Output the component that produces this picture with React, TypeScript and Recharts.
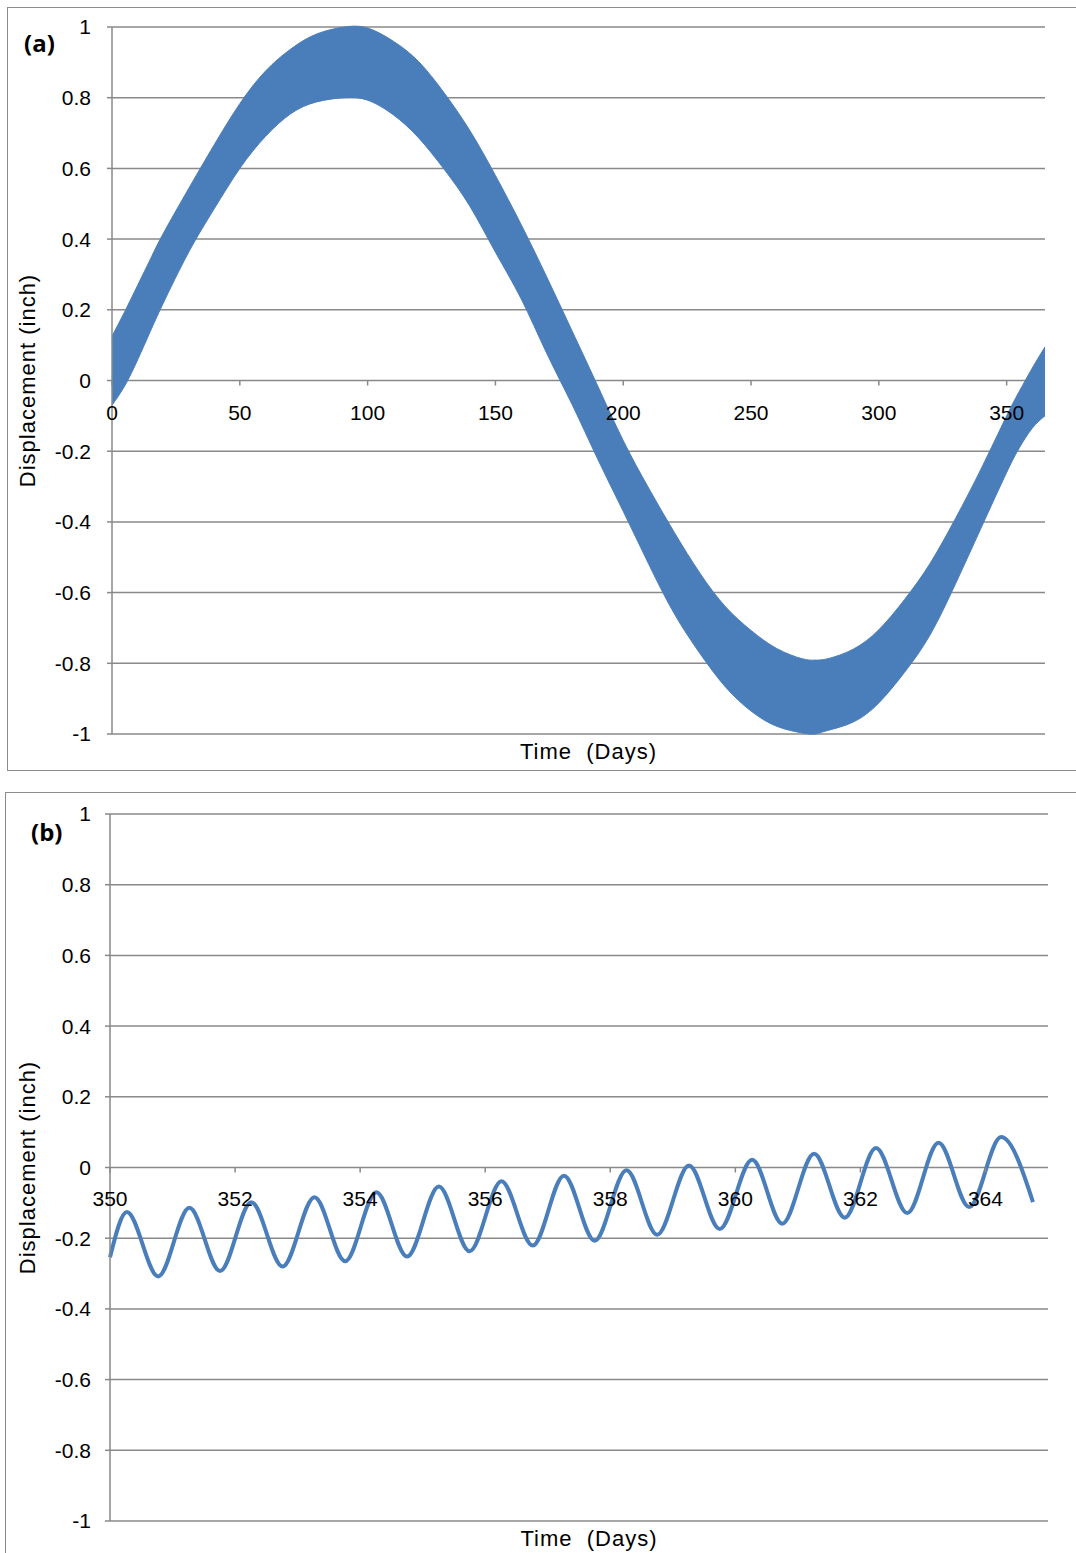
import { AreaChart, Area, LineChart, Line, XAxis, YAxis, CartesianGrid } from 'recharts'

const BLUE = '#4a7ebb'
const GRID = '#898989'
const FONT = '"Liberation Sans", Arial, Helvetica, sans-serif'

// (a) whole year: the daily swing is too dense to see one by one,
// so keep the upper and lower edge of the band
const yearDays = [0, 5, 10, 15, 20, 30, 40, 50, 60, 70, 80, 91, 100, 110, 120, 130, 140, 150, 160, 170, 180, 190, 200, 210, 220, 230, 240, 250, 260, 270, 275, 280, 290, 300, 310, 320, 330, 340, 350, 355, 360, 365]
const yearUpper = [0.125, 0.195, 0.269, 0.343, 0.415, 0.543, 0.667, 0.783, 0.875, 0.938, 0.98, 1.0, 0.997, 0.96, 0.902, 0.813, 0.707, 0.58, 0.442, 0.294, 0.14, -0.015, -0.17, -0.305, -0.43, -0.545, -0.64, -0.707, -0.758, -0.787, -0.791, -0.787, -0.76, -0.705, -0.62, -0.518, -0.39, -0.25, -0.1, -0.03, 0.035, 0.095]
const yearLower = [-0.07, -0.015, 0.058, 0.139, 0.218, 0.363, 0.486, 0.6, 0.69, 0.755, 0.788, 0.8, 0.793, 0.752, 0.686, 0.597, 0.493, 0.363, 0.232, 0.078, -0.068, -0.222, -0.37, -0.52, -0.66, -0.772, -0.867, -0.935, -0.978, -0.997, -1.0, -0.99, -0.966, -0.912, -0.826, -0.72, -0.575, -0.417, -0.26, -0.19, -0.135, -0.1]
const yearTicks = [0, 50, 100, 150, 200, 250, 300, 350]

// (b) last two weeks: peaks and troughs of the daily swing
const zoomDays = [350, 350.27, 350.77, 351.27, 351.76, 352.26, 352.76, 353.27, 353.76, 354.26, 354.75, 355.26, 355.75, 356.26, 356.76, 357.26, 357.75, 358.26, 358.75, 359.26, 359.75, 360.27, 360.75, 361.26, 361.75, 362.25, 362.75, 363.25, 363.74, 364.25, 364.76]
const zoomValues = [-0.254, -0.126, -0.308, -0.114, -0.293, -0.098, -0.28, -0.084, -0.265, -0.07, -0.252, -0.054, -0.237, -0.039, -0.221, -0.023, -0.207, -0.008, -0.19, 0.006, -0.174, 0.022, -0.159, 0.039, -0.142, 0.055, -0.129, 0.07, -0.112, 0.086, -0.098]
const zoomTicks = [350, 352, 354, 356, 358, 360, 362, 364]

const yTicks = [-1, -0.8, -0.6, -0.4, -0.2, 0, 0.2, 0.4, 0.6, 0.8, 1]

const yearData = yearDays.map((d, i) => ({ day: d, band: [yearLower[i], yearUpper[i]] }))
const zoomData = zoomDays.map((d, i) => ({ day: d, value: zoomValues[i] }))

const PLOT_H = 707

// excel puts the x axis on the zero line, which is halfway up the plot
const ZeroLineTick = ({ x, y, payload, below }: any) => {
  const zeroY = y - PLOT_H / 2
  return (
    <g>
      <line x1={x} x2={x} y1={zeroY} y2={zeroY + 5} stroke={GRID} strokeWidth={1.5} />
      <text x={x} y={zeroY + below} dy="0.35em" textAnchor="middle" fontSize={21} fontFamily={FONT} fill="#000">
        {payload.value}
      </text>
    </g>
  )
}

// axis title sits a little right of the plot centre in the original
const XTitle = ({ viewBox }: any) => (
  <text
    x={viewBox.x + viewBox.width / 2 + 10}
    y={viewBox.y + 17}
    dy="0.35em"
    textAnchor="middle"
    fontSize={22}
    fontFamily={FONT}
    letterSpacing={1}
    fill="#000"
  >
    {'Time\u00a0 (Days)'}
  </text>
)

const yLabel = {
  value: 'Displacement (inch)',
  angle: -90,
  position: 'insideLeft' as const,
  offset: 27,
  style: { textAnchor: 'middle', fontSize: 22, fill: '#000', fontFamily: FONT, letterSpacing: 1 },
}

const panelTag = (left: number, top: number): React.CSSProperties => ({
  position: 'absolute',
  left,
  top,
  fontFamily: '"Open Sans", "Noto Sans", sans-serif',
  fontWeight: 700,
  fontSize: 24,
  lineHeight: '24px',
  color: '#000',
})

export default function App() {
  return (
    <div style={{ position: 'absolute', left: 0, top: 0, width: 1076, height: 1553, overflow: 'hidden', background: '#fff' }}>
      {/* panel (a) */}
      <div style={{ position: 'absolute', left: 7, top: 7, width: 1100, height: 764, border: '1px solid #8c8c8c', boxSizing: 'border-box' }} />
      <div style={{ position: 'absolute', left: 0, top: 0 }}>
        <AreaChart width={1076} height={790} data={yearData} margin={{ top: 27, right: 31, bottom: 16, left: 0 }}>
          <CartesianGrid vertical={false} stroke={GRID} strokeWidth={1.5} />
          <Area
            type="natural"
            dataKey="band"
            stroke={BLUE}
            strokeWidth={1}
            fill={BLUE}
            fillOpacity={1}
            isAnimationActive={false}
            dot={false}
            activeDot={false}
          />
          <XAxis
            type="number"
            dataKey="day"
            domain={[0, 365]}
            ticks={yearTicks}
            interval={0}
            height={40}
            axisLine={false}
            tickLine={false}
            tickSize={0}
            tickMargin={0}
            tick={<ZeroLineTick below={32} />}
            label={<XTitle />}
          />
          <YAxis
            type="number"
            domain={[-1, 1]}
            ticks={yTicks}
            interval={0}
            width={112}
            axisLine={{ stroke: GRID, strokeWidth: 1.5 }}
            tickLine={{ stroke: GRID, strokeWidth: 1.5 }}
            tickSize={5}
            tickMargin={16}
            tick={{ fontSize: 21, fill: '#000', fontFamily: FONT }}
            label={yLabel}
          />
        </AreaChart>
      </div>
      <div style={panelTag(24, 31)}>(a)</div>

      {/* panel (b) */}
      <div style={{ position: 'absolute', left: 5, top: 792, width: 1100, height: 800, border: '1px solid #8c8c8c', boxSizing: 'border-box' }} />
      <div style={{ position: 'absolute', left: 0, top: 780 }}>
        <LineChart width={1076} height={773} data={zoomData} margin={{ top: 34, right: 28, bottom: 2, left: 0 }}>
          <CartesianGrid vertical={false} stroke={GRID} strokeWidth={1.5} />
          <Line
            type="monotone"
            dataKey="value"
            stroke={BLUE}
            strokeWidth={4}
            dot={false}
            activeDot={false}
            isAnimationActive={false}
          />
          <XAxis
            type="number"
            dataKey="day"
            domain={[350, 365]}
            ticks={zoomTicks}
            interval={0}
            height={30}
            axisLine={false}
            tickLine={false}
            tickSize={0}
            tickMargin={0}
            tick={<ZeroLineTick below={31} />}
            label={<XTitle />}
          />
          <YAxis
            type="number"
            domain={[-1, 1]}
            ticks={yTicks}
            interval={0}
            width={110}
            axisLine={{ stroke: GRID, strokeWidth: 1.5 }}
            tickLine={{ stroke: GRID, strokeWidth: 1.5 }}
            tickSize={5}
            tickMargin={14}
            tick={{ fontSize: 21, fill: '#000', fontFamily: FONT }}
            label={yLabel}
          />
        </LineChart>
      </div>
      <div style={panelTag(31, 820)}>(b)</div>
    </div>
  )
}
